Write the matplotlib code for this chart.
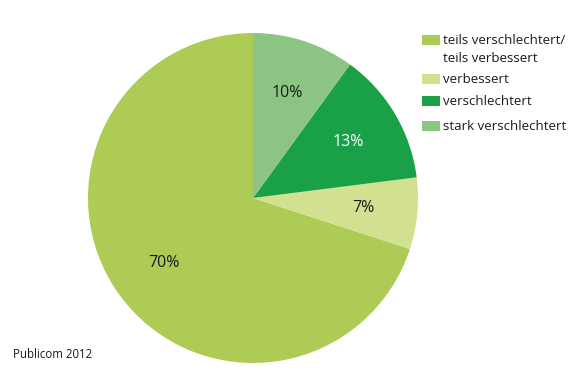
import matplotlib.pyplot as plt
from matplotlib.patches import Rectangle

plt.rcParams['font.family'] = ['Open Sans', 'DejaVu Sans']

# data (counterclockwise from 12 o'clock)
labels = ['teils verschlechtert/\nteils verbessert', 'verbessert', 'verschlechtert', 'stark verschlechtert']
values = [70, 7, 13, 10]
colors = ['#aecb55', '#d2e190', '#1aa147', '#8cc583']
pct_colors = ['#1a1a1a', '#1a1a1a', 'white', '#1a1a1a']

W, H = 568, 378
fig = plt.figure(figsize=(W / 100, H / 100), dpi=100)

# pie axes: centre about (253, 198) px, radius 165 px
ax = fig.add_axes([(253 - 165) / W, 1 - (198 + 165) / H, 330 / W, 330 / H])
wedges, texts, autotexts = ax.pie(values, colors=colors, startangle=90, counterclock=True,
                                  autopct='%d%%', pctdistance=0.67,
                                  wedgeprops=dict(linewidth=0))
for t, c in zip(autotexts, pct_colors):
    t.set_color(c)
    t.set_fontsize(11.5)
ax.set_aspect('equal')
ax.set_xlim(-1, 1)
ax.set_ylim(-1, 1)

# legend drawn by hand so the box sits on the first line of the wrapped label
rows_y = [41, 80, 102, 127]
for lab, col, y in zip(labels, colors, rows_y):
    fig.add_artist(Rectangle((422 / W, 1 - (y + 4) / H), 18 / W, 10 / H,
                             transform=fig.transFigure, facecolor=col, edgecolor='none'))
    fig.text(443 / W, 1 - (y - 7) / H, lab, fontsize=9.5, va='top', ha='left',
             color='#1a1a1a', linespacing=1.55)

fig.text(13 / W, 1 - 354 / H, 'Publicom 2012', fontsize=8.3, va='center', ha='left', color='#1a1a1a')

fig.savefig('out.png', dpi=100)
